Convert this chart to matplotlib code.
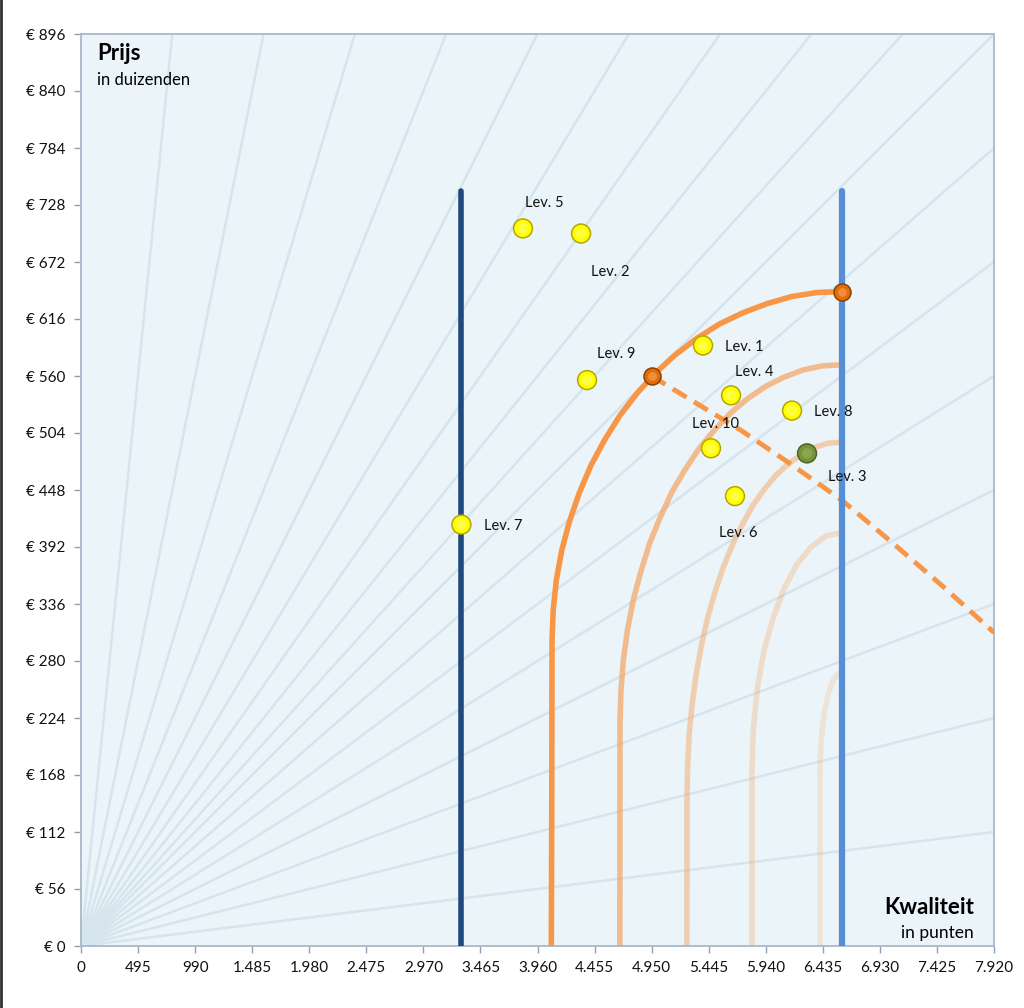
import matplotlib.pyplot as plt

plt.rcParams['font.family'] = ['Lato', 'DejaVu Sans']

# leveranciers: kwaliteit (punten) en prijs (duizenden)
lev_labels = ['Lev. 1', 'Lev. 2', 'Lev. 3', 'Lev. 4', 'Lev. 5',
              'Lev. 6', 'Lev. 7', 'Lev. 8', 'Lev. 9', 'Lev. 10']
lev_x = [5396, 4338, 6298, 5639, 3834, 5673, 3300, 6168, 4390, 5465]
lev_y = [590, 700, 484, 541, 705, 442, 414, 526, 556, 489]
lev_dx = [41, 29, 40, 23, 21, 3, 42, 41, 29, 5]     # label offset in pixels
lev_dy = [-2, -39, -24, 23, 25, -37, -1, -1, 26, 24]

# optimum punten (oranje)
opt_x = [4950, 6600]
opt_y = [560, 643]

# grenzen kwaliteit
min_kwal = 3300
max_kwal = 6600
grens_top = 742

# iso-curves
curve_x = [
    [4080, 4084, 4086, 4096, 4124, 4171, 4237, 4322, 4423, 4541, 4674, 4823,
     4984, 5157, 5343, 5537, 5740, 5949, 6163, 6381, 6600],
    [4674, 4676, 4684, 4705, 4741, 4791, 4857, 4934, 5024, 5126, 5240, 5363,
     5496, 5638, 5786, 5942, 6102, 6265, 6433, 6600],
    [5256, 5257, 5263, 5277, 5303, 5338, 5383, 5437, 5500, 5571, 5650, 5736,
     5829, 5929, 6032, 6141, 6252, 6366, 6483, 6600],
    [5821, 5821, 5833, 5868, 5925, 6003, 6099, 6210, 6334, 6464, 6600],
    [6411, 6411, 6414, 6422, 6437, 6456, 6479, 6506, 6535, 6567, 6600],
]
curve_y = [
    [0, 150, 300, 330, 360, 389, 417, 445, 472, 497, 521, 543,
     563, 581, 597, 611, 622, 631, 638, 642, 643],
    [0, 220, 251, 281, 311, 340, 368, 396, 421, 446, 468, 489,
     507, 524, 538, 550, 559, 566, 570, 571],
    [0, 150, 180, 210, 239, 268, 296, 323, 348, 372, 394, 414,
     433, 449, 463, 474, 483, 490, 494, 495],
    [0, 175, 215, 254, 290, 322, 351, 375, 392, 403, 406],
    [0, 170, 187, 204, 220, 234, 246, 256, 263, 267, 269],
]
curve_alpha = [1.0, 0.6, 0.4, 0.26, 0.18]

# prijs/kwaliteit lijn (gestreept)
dash_x = [4950, 5370, 5720, 6150, 6600, 7040, 7480, 7920]
dash_y = [560, 531, 507, 474, 438, 396, 353, 308]

# stralen vanuit oorsprong
ray_top_x = [792, 1584, 2376, 3168, 3960, 4752, 5544, 6336, 7128, 7920]
ray_right_y = [112, 224, 336, 448, 560, 672, 784]

x_ticks = list(range(0, 7921, 495))
y_ticks = list(range(0, 897, 56))

fig = plt.figure(figsize=(10.24, 10.08), dpi=100)
ax = fig.add_axes([81 / 1024, 62 / 1008, 913 / 1024, 912 / 1008])
ax.set_facecolor('#ebf4f8')

for tx in ray_top_x:
    ax.plot([0, tx], [0, 896], color='#d6e4ee', lw=1.8, zorder=1)
for ry in ray_right_y:
    ax.plot([0, 7920], [0, ry], color='#d6e4ee', lw=1.8, zorder=1)

for cx, cy, a in zip(curve_x, curve_y, curve_alpha):
    ax.plot(cx, cy, color='#f79646', alpha=a, lw=4, zorder=3,
            solid_capstyle='round', solid_joinstyle='round')

ax.plot(dash_x, dash_y, color='#f79646', lw=3.5, ls=(0, (3.3, 1.8)), zorder=3)

ax.plot([min_kwal, min_kwal], [0, grens_top], color='#1f497d', lw=4,
        solid_capstyle='round', zorder=4)
ax.plot([max_kwal, max_kwal], [0, grens_top], color='#558ed5', lw=4.5,
        solid_capstyle='round', zorder=4)

cols = ['#ffff00'] * len(lev_x)
edges = ['#b5a600'] * len(lev_x)
cols[2] = '#77933c'
edges[2] = '#4f6228'
ax.scatter(lev_x, lev_y, s=185, c=cols, edgecolors=edges, linewidths=1.1, zorder=6)
ax.scatter(lev_x, lev_y, s=55, c=['#ffff80' if c == '#ffff00' else '#9bb75e' for c in cols],
           linewidths=0, alpha=0.5, zorder=7)
ax.scatter(opt_x, opt_y, s=150, c='#e46c0a', edgecolors='#8a4000', linewidths=1.1, zorder=6)
ax.scatter(opt_x, opt_y, s=40, c='#f9a55a', linewidths=0, alpha=0.6, zorder=7)

for lab, x, y, dx, dy in zip(lev_labels, lev_x, lev_y, lev_dx, lev_dy):
    ax.annotate(lab, (x, y), xytext=(dx, dy), textcoords='offset pixels',
                ha='center', va='center', fontsize=10.5, color='#111111', zorder=8)

ax.set_xlim(0, 7920)
ax.set_ylim(0, 896)
ax.set_xticks(x_ticks)
ax.set_yticks(y_ticks)
ax.set_xticklabels([f"{v:,}".replace(',', '.') for v in x_ticks])
ax.set_yticklabels([f"€ {v}" for v in y_ticks])
ax.tick_params(labelsize=11, colors='#8ea3b8', labelcolor='#111111',
               length=5, width=1, pad=6)

for s in ax.spines.values():
    s.set_color('#a7b9cc')
    s.set_linewidth(1.3)

ax.text(0.0175, 0.99, 'Prijs', transform=ax.transAxes, fontsize=16,
        fontweight='bold', ha='left', va='top')
ax.text(0.0175, 0.958, 'in duizenden', transform=ax.transAxes, fontsize=12,
        ha='left', va='top')
ax.text(0.978, 0.042, 'Kwaliteit', transform=ax.transAxes, fontsize=16,
        fontweight='bold', ha='right', va='center')
ax.text(0.978, 0.014, 'in punten', transform=ax.transAxes, fontsize=12.5,
        ha='right', va='center')

# donkere rand links
fig.add_artist(plt.Line2D([0.001, 0.001], [0, 1], color='#333333', lw=2,
                          transform=fig.transFigure))

fig.savefig('out.png', dpi=100)
